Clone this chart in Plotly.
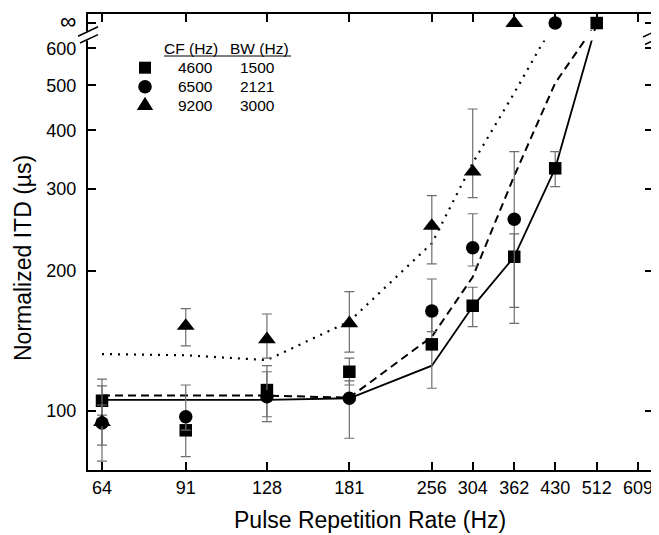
import plotly.graph_objects as go

# The page body has an 8px margin, so the figure is drawn 8px in from the
# window's top-left; sizes below are chosen so the plot area lands at
# x 88..653, y 14..470 of the window.
W, H = 651, 527
PL, PR, PT, PB = 80, 6, 6, 65

INF = 680  # position of the "∞" row

x_ticks = [64, 91, 128, 181, 256, 304, 362, 430, 512, 609]
y_ticks = [100, 200, 300, 400, 500, 600]

# CF 4600 Hz / BW 1500 Hz (squares)
sq_x = [64, 91, 128, 181, 256, 304, 362, 430, 512]
sq_y = [105.2, 90.9, 110.9, 121.4, 139.0, 168.2, 214.3, 331.7, INF]
sq_hi = [113.2, 97.0, 125.1, 129.8, 160.0, 184.3, 240.0, 360.1, INF]
sq_lo = [98.0, 79.8, 97.2, 113.7, 111.9, 151.7, 154.2, 302.9, INF]

# CF 6500 Hz / BW 2121 Hz (circles)
ci_x = [64, 91, 128, 181, 256, 304, 362, 430]
ci_y = [94.2, 97.2, 107.3, 106.5, 163.9, 224.0, 257.8, INF]
ci_hi = [103.0, 113.7, 121.4, 116.0, 192.0, 265.0, 360.1, INF]
ci_lo = [84.5, 91.0, 94.9, 87.4, 148.0, 204.7, 166.9, INF]

# CF 9200 Hz / BW 3000 Hz (triangles)
tr_x = [64, 91, 128, 181, 256, 304, 362]
tr_y = [94.7, 152.2, 142.5, 154.2, 249.5, 326.2, INF]
tr_hi = [117.1, 165.8, 161.5, 180.3, 289.7, 444.7, INF]
tr_lo = [78.1, 137.9, 129.8, 133.8, 206.8, 287.0, INF]

# model curves
solid_x = [64, 91, 128, 181, 256, 304, 362, 430, 512]
solid_y = [105.6, 105.6, 105.6, 106.5, 125.1, 167.5, 214.3, 331.7, INF]
dashed_x = [64, 91, 128, 181, 256, 304, 362, 430, 512]
dashed_y = [107.9, 107.9, 107.9, 106.8, 144.3, 193.9, 319.6, 505.6, INF]
dotted_x = [64, 91, 128, 181, 256, 304, 362, 406, 430]
dotted_y = [132.5, 131.7, 128.6, 155.7, 229.0, 340.5, 481.3, 610.3, INF]

legend_cf = ["4600", "6500", "9200"]
legend_bw = ["1500", "2121", "3000"]

FONT = "Liberation Sans, Arial, sans-serif"
ERRC = "#6e6e6e"

# window-pixel -> paper helpers (plot area x 88..653, y 14..470 in window)
def px(x):
    return (x - 88) / 565.0


def py(y):
    return (470 - y) / 456.0


fig = go.Figure()

for xs, ys, dash, w in [(solid_x, solid_y, "solid", 1.8),
                        (dashed_x, dashed_y, "8px,5px", 2.0),
                        (dotted_x, dotted_y, "2px,6px", 2.2)]:
    fig.add_trace(go.Scatter(x=xs, y=ys, mode="lines",
                             line=dict(color="black", width=w, dash=dash),
                             showlegend=False, hoverinfo="skip"))


def add_data(xs, ys, hi, lo, symbol, size):
    fig.add_trace(go.Scatter(
        x=xs, y=ys, mode="markers",
        marker=dict(symbol=symbol, size=size, color="black", line=dict(width=0)),
        error_y=dict(type="data", symmetric=False,
                     array=[h - v for h, v in zip(hi, ys)],
                     arrayminus=[v - l for l, v in zip(lo, ys)],
                     color=ERRC, thickness=1.2, width=5),
        showlegend=False))


add_data(sq_x, sq_y, sq_hi, sq_lo, "square", 12.5)
add_data(ci_x, ci_y, ci_hi, ci_lo, "circle", 13.5)
add_data(tr_x, tr_y, tr_hi, tr_lo, "triangle-up", 15.5)

shapes = []
# axis break: white band + slanted marks
shapes.append(dict(type="rect", xref="paper", yref="paper",
                   x0=px(80), x1=px(662), y0=py(40.5), y1=py(31),
                   fillcolor="white", line=dict(width=0), layer="above"))
for (x0, y0, x1, y1) in [(78, 36.2, 98, 26.8), (80, 43, 98, 34.6),
                         (643, 37, 660, 29), (645, 44.5, 660, 37.4)]:
    shapes.append(dict(type="line", xref="paper", yref="paper",
                       x0=px(x0), y0=py(y0), x1=px(x1), y1=py(y1),
                       line=dict(color="black", width=1.5), layer="above"))
# legend header underline
shapes.append(dict(type="line", xref="paper", yref="paper",
                   x0=px(164), x1=px(291), y0=py(56), y1=py(56),
                   line=dict(color="black", width=1), layer="above"))
# legend symbols
shapes.append(dict(type="rect", xref="paper", yref="paper",
                   x0=px(139), x1=px(151), y0=py(73.7), y1=py(61.7),
                   fillcolor="black", line=dict(width=0), layer="above"))
shapes.append(dict(type="circle", xref="paper", yref="paper",
                   x0=px(138.2), x1=px(151.8), y0=py(93.6), y1=py(80),
                   fillcolor="black", line=dict(width=0), layer="above"))
shapes.append(dict(type="path", xref="paper", yref="paper",
                   path=f"M {px(136.8)},{py(110)} L {px(153.2)},{py(110)} L {px(145)},{py(96.8)} Z",
                   fillcolor="black", line=dict(width=0), layer="above"))

ann = []
lf = dict(family=FONT, size=15.5, color="black")
ann.append(dict(text="CF (Hz)", x=px(190.8), y=py(48.3), xref="paper", yref="paper",
                showarrow=False, xanchor="center", yanchor="middle", font=lf))
ann.append(dict(text="BW (Hz)", x=px(259), y=py(48.3), xref="paper", yref="paper",
                showarrow=False, xanchor="center", yanchor="middle", font=lf))
for i, (cf, bw) in enumerate(zip(legend_cf, legend_bw)):
    yy = [67.7, 86.7, 105.3][i]
    ann.append(dict(text=cf, x=px(195), y=py(yy), xref="paper", yref="paper",
                    showarrow=False, xanchor="center", yanchor="middle", font=lf))
    ann.append(dict(text=bw, x=px(257.3), y=py(yy), xref="paper", yref="paper",
                    showarrow=False, xanchor="center", yanchor="middle", font=lf))

tf = dict(family=FONT, size=23, color="black")
ann.append(dict(text="Pulse Repetition Rate (Hz)", x=px(370), y=py(520),
                xref="paper", yref="paper", showarrow=False,
                xanchor="center", yanchor="middle", font=tf))
ann.append(dict(text="Normalized ITD (µs)", x=px(23), y=py(258),
                xref="paper", yref="paper", showarrow=False, textangle=-90,
                xanchor="center", yanchor="middle", font=tf))

axis_common = dict(type="log", showgrid=False, zeroline=False, showline=True,
                   linecolor="black", linewidth=2, mirror="ticks",
                   ticks="inside", ticklen=8, tickwidth=1.5, tickcolor="black",
                   ticklabeloverflow="allow",
                   tickfont=dict(family=FONT, size=18, color="black"))

fig.update_layout(
    width=W, height=H,
    margin=dict(l=PL, r=PR, t=PT, b=PB, pad=0, autoexpand=False),
    paper_bgcolor="white", plot_bgcolor="white",
    xaxis=dict(range=[1.7806, 2.8120], tickvals=x_ticks,
               ticktext=[str(v) for v in x_ticks], ticklabelstandoff=0,
               **axis_common),
    yaxis=dict(range=[1.8734, 2.8519], tickvals=y_ticks + [INF],
               ticktext=[str(v) for v in y_ticks] + ['<span style="font-size:23px">∞</span>'],
               ticklabelstandoff=6, **axis_common),
    shapes=shapes, annotations=ann, showlegend=False,
)

fig.write_html("out.html")
